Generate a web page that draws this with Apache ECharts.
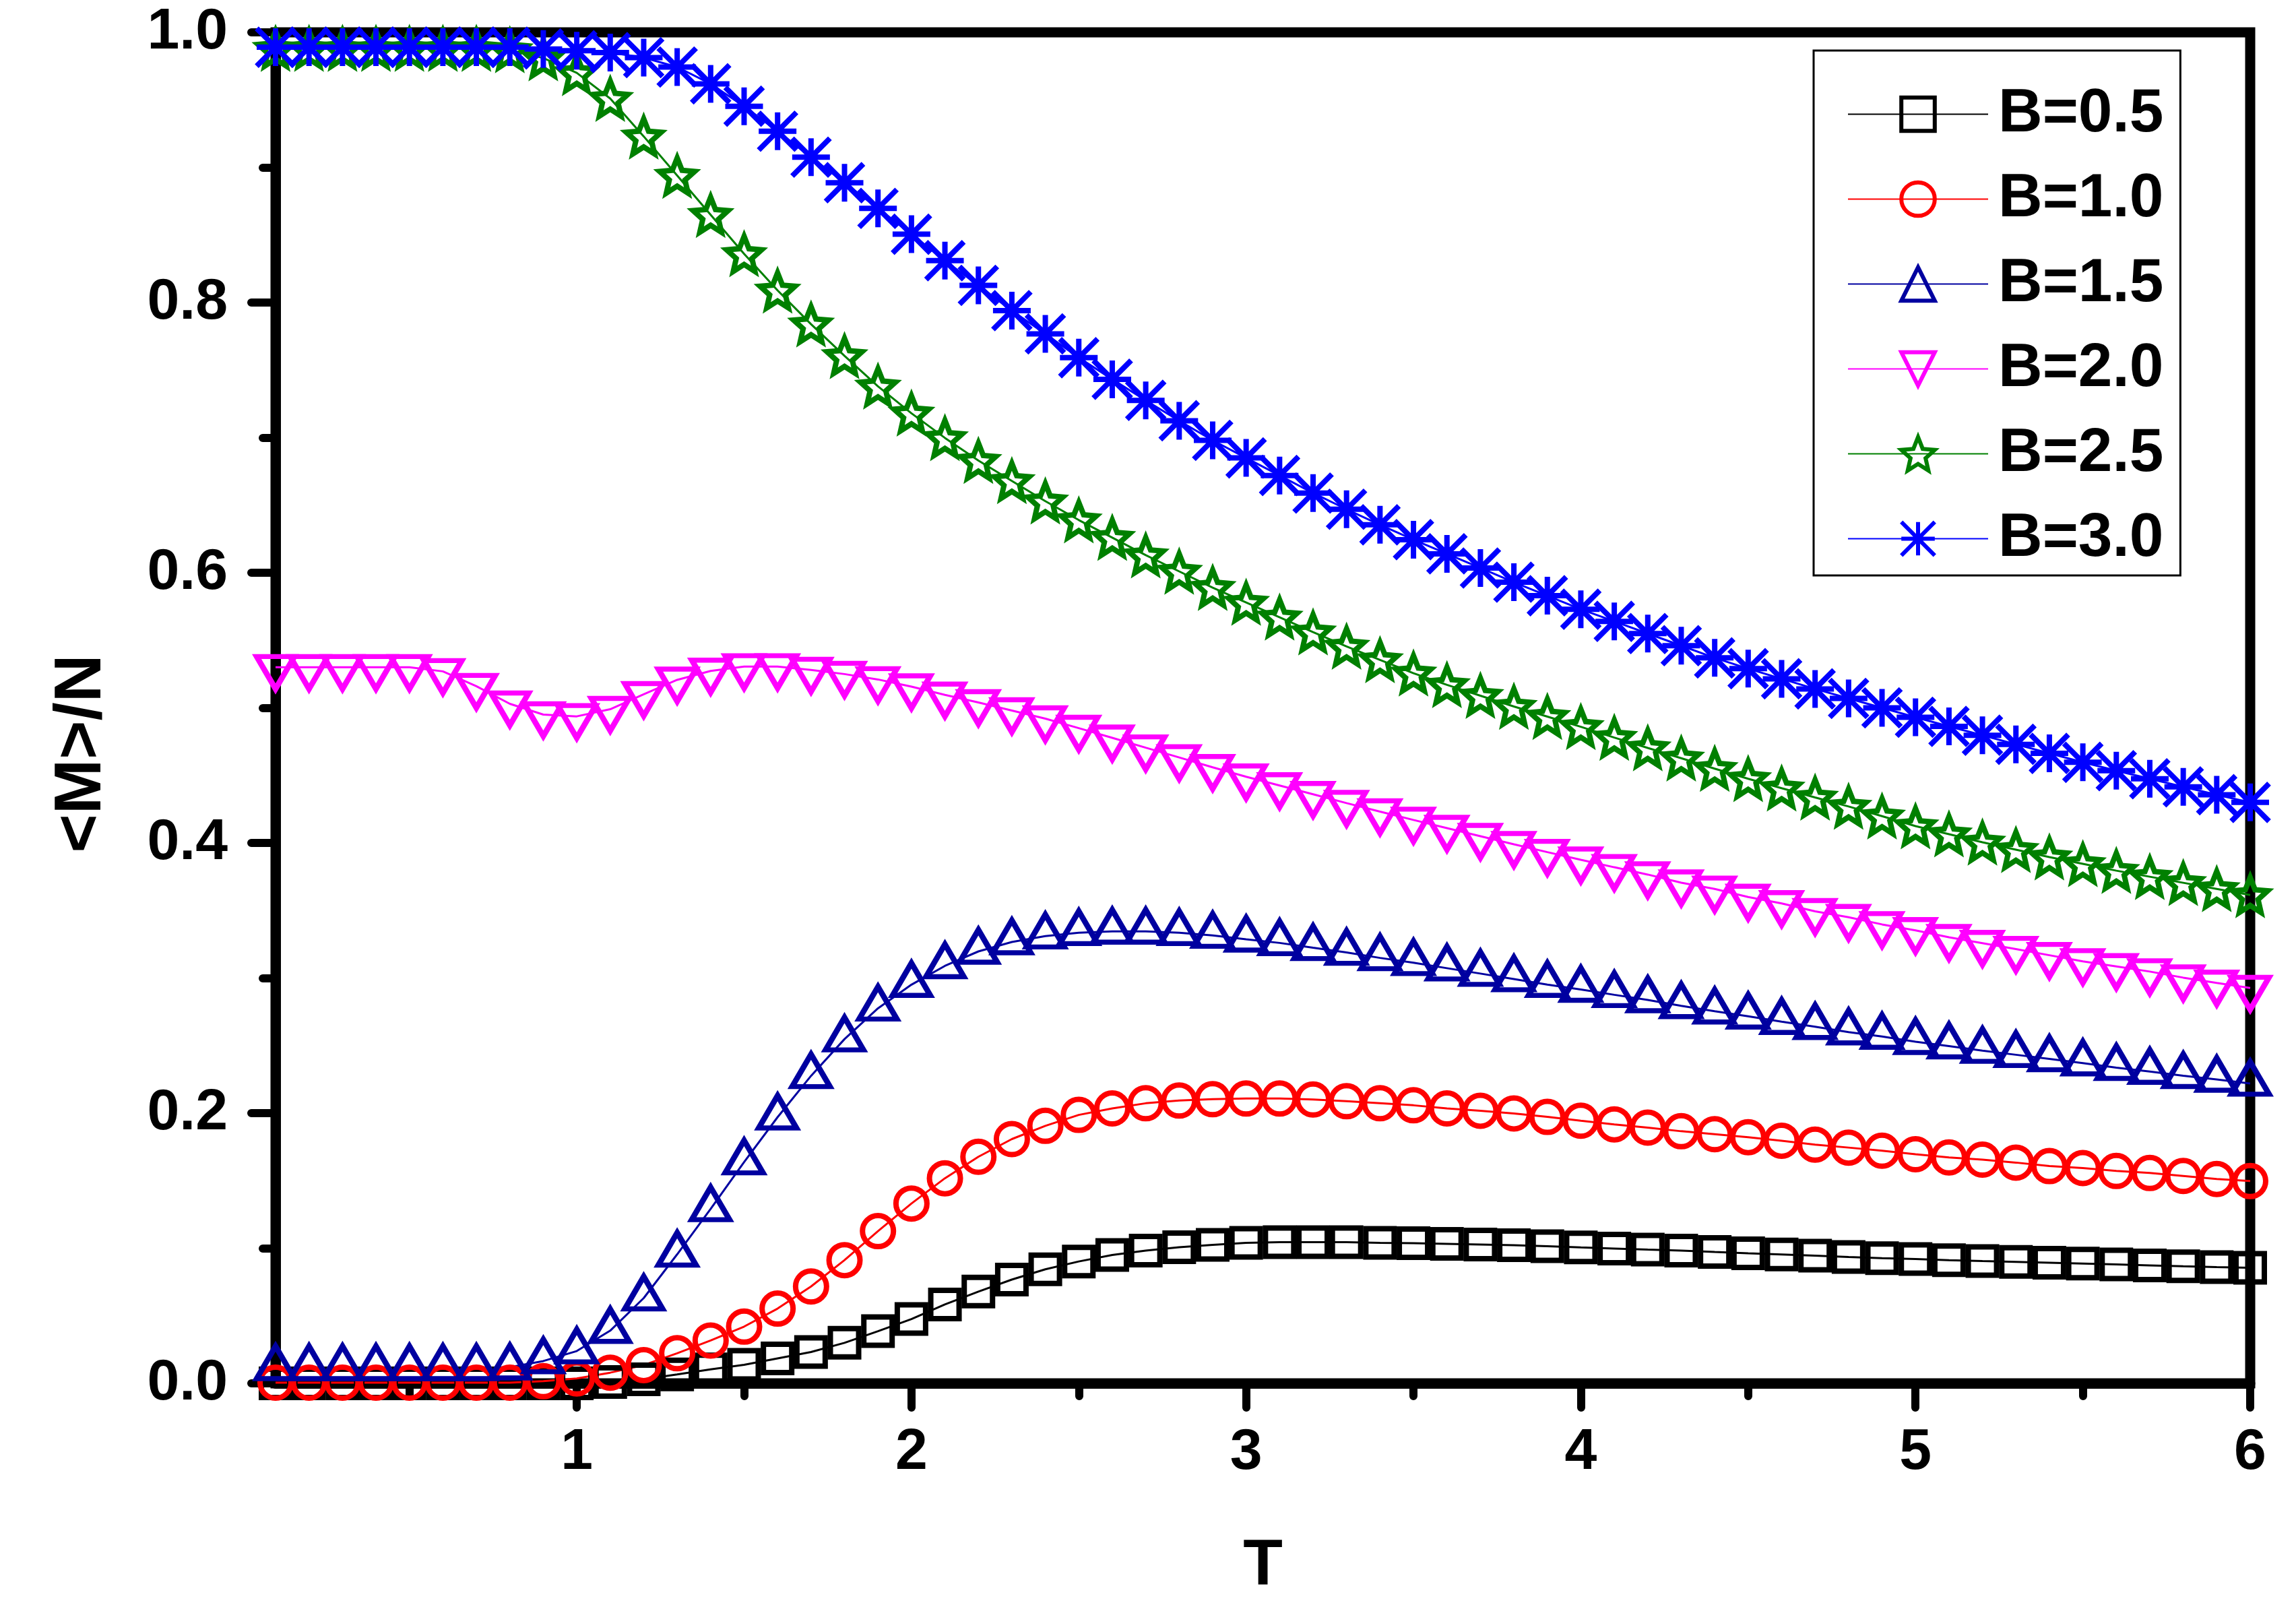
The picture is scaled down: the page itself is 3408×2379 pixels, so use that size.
<!DOCTYPE html>
<html>
<head>
<meta charset="utf-8">
<title>&lt;M&gt;/N vs T</title>
<script src="https://cdn.jsdelivr.net/npm/echarts@6/dist/echarts.min.js"></script>
<style>
  html, body { margin: 0; padding: 0; background: #fff; }
  #chart { width: 3408px; height: 2379px; }
</style>
</head>
<body>
<div id="chart"></div>
<script>
// temperature grid, one point every 0.1
const T = [
  0.1, 0.2, 0.3, 0.4, 0.5, 0.6, 0.7, 0.8, 0.9, 1.0,
  1.1, 1.2, 1.3, 1.4, 1.5, 1.6, 1.7, 1.8, 1.9, 2.0,
  2.1, 2.2, 2.3, 2.4, 2.5, 2.6, 2.7, 2.8, 2.9, 3.0,
  3.1, 3.2, 3.3, 3.4, 3.5, 3.6, 3.7, 3.8, 3.9, 4.0,
  4.1, 4.2, 4.3, 4.4, 4.5, 4.6, 4.7, 4.8, 4.9, 5.0,
  5.1, 5.2, 5.3, 5.4, 5.5, 5.6, 5.7, 5.8, 5.9, 6.0
];

const B05 = [
  0, 0, 0, 0, 0, 0, 0, 0, 0, 0,
  0.001, 0.003, 0.0066, 0.0104, 0.0137, 0.0185, 0.0232, 0.030, 0.0386, 0.0476,
  0.0584, 0.0679, 0.0768, 0.0844, 0.0902, 0.095, 0.0983, 0.1008, 0.1025, 0.104,
  0.1045, 0.1045, 0.1045, 0.104, 0.1038, 0.1033, 0.1028, 0.1022, 0.1015, 0.1006,
  0.0998, 0.099, 0.0983, 0.0972, 0.0962, 0.0954, 0.0945, 0.0935, 0.0927, 0.092,
  0.0912, 0.0905, 0.0899, 0.0893, 0.0887, 0.088, 0.0873, 0.0866, 0.086, 0.0855
];

const B10 = [
  0.0005, 0.0005, 0.0005, 0.0005, 0.0005, 0.0005, 0.0005, 0.0005, 0.0016, 0.0036,
  0.0079, 0.0135, 0.0223, 0.0317, 0.042, 0.0553, 0.0717, 0.0912, 0.1127, 0.1331,
  0.1518, 0.1677, 0.1808, 0.1906, 0.1987, 0.2035, 0.2073, 0.2093, 0.2103, 0.2108,
  0.2108, 0.2101, 0.2088, 0.2073, 0.2058, 0.2035, 0.2018, 0.1998, 0.1972, 0.1944,
  0.1917, 0.1893, 0.1866, 0.1844, 0.1822, 0.1796, 0.1767, 0.1745, 0.1722, 0.1696,
  0.1672, 0.1656, 0.1634, 0.1608, 0.1594, 0.1572, 0.1557, 0.1535, 0.1513, 0.1497
];

const B15 = [
  0.0115, 0.0115, 0.0115, 0.0115, 0.0115, 0.0115, 0.0115, 0.012, 0.0165, 0.0239,
  0.039, 0.0631, 0.0955, 0.1291, 0.1638, 0.197, 0.2276, 0.2548, 0.2776, 0.2951,
  0.309, 0.3197, 0.3267, 0.331, 0.3335, 0.3345, 0.3345, 0.3335, 0.3315, 0.3287,
  0.326, 0.3224, 0.3189, 0.3149, 0.3113, 0.3073, 0.3033, 0.2993, 0.2951, 0.2915,
  0.2876, 0.2838, 0.2794, 0.2754, 0.2717, 0.2677, 0.264, 0.26, 0.2567, 0.2529,
  0.2496, 0.2463, 0.2432, 0.2401, 0.237, 0.2337, 0.2308, 0.2277, 0.2249, 0.222
];

const B20 = [
  0.530, 0.530, 0.530, 0.530, 0.530, 0.527, 0.516, 0.503, 0.495, 0.4937,
  0.499, 0.510, 0.5207, 0.5273, 0.5306, 0.5306, 0.528, 0.525, 0.521, 0.5157,
  0.5096, 0.504, 0.498, 0.492, 0.485, 0.4778, 0.4705, 0.4633, 0.456, 0.449,
  0.4425, 0.436, 0.4295, 0.4232, 0.417, 0.411, 0.405, 0.399, 0.3932, 0.3875,
  0.382, 0.3766, 0.3706, 0.366, 0.36, 0.3552, 0.3494, 0.345, 0.3397, 0.3353,
  0.3302, 0.3258, 0.3214, 0.3169, 0.3123, 0.3086, 0.3048, 0.3003, 0.2964, 0.2926
];

const B25 = [
  0.988, 0.988, 0.988, 0.988, 0.988, 0.988, 0.988, 0.987, 0.981, 0.970,
  0.951, 0.923, 0.894, 0.865, 0.836, 0.809, 0.784, 0.7605, 0.738, 0.718,
  0.6998, 0.683, 0.668, 0.653, 0.639, 0.626, 0.613, 0.601, 0.589, 0.578,
  0.567, 0.556, 0.5455, 0.5355, 0.5256, 0.517, 0.509, 0.501, 0.4935, 0.486,
  0.478, 0.4703, 0.4627, 0.455, 0.4475, 0.4405, 0.4337, 0.427, 0.4198, 0.4125,
  0.4065, 0.4005, 0.395, 0.3895, 0.3845, 0.3795, 0.375, 0.3705, 0.366, 0.3615
];

const B30 = [
  0.989, 0.989, 0.989, 0.989, 0.989, 0.989, 0.989, 0.989, 0.9877, 0.9864,
  0.985, 0.9813, 0.9743, 0.9619, 0.9453, 0.9268, 0.9076, 0.8887, 0.8697, 0.8506,
  0.831, 0.8127, 0.794, 0.7768, 0.7592, 0.7432, 0.7276, 0.7125, 0.698, 0.685,
  0.672, 0.659, 0.647, 0.6355, 0.6245, 0.614, 0.6035, 0.593, 0.583, 0.573,
  0.564, 0.555, 0.546, 0.537, 0.529, 0.5215, 0.514, 0.507, 0.5, 0.493,
  0.4863, 0.4797, 0.473, 0.4663, 0.4597, 0.4535, 0.4475, 0.4415, 0.4357, 0.43
];

const X_MAJOR = [1, 2, 3, 4, 5, 6];
const X_MINOR = [0.5, 1.5, 2.5, 3.5, 4.5, 5.5];

const FONT = 'Arial, "Liberation Sans", sans-serif';

const markers = {
  square: 'rect',
  circle: 'circle',
  up: 'triangle',
  down: 'path://M0,0 L2,0 L1,1.7 Z',
  star: 'path://M1,0 L1.2645,0.636 L1.9511,0.691 L1.428,1.139 L1.5878,1.809 L1,1.45 L0.4122,1.809 L0.572,1.139 L0.0489,0.691 L0.7355,0.636 Z',
  asterisk: 'path://M0,0 L2,2 M2,0 L0,2 M0,1 L2,1 M1,0 L1,2'
};

const defs = [
  { name: 'B=0.5', data: B05, color: '#000000', symbol: markers.square, size: 42, offset: [0, 0] },
  { name: 'B=1.0', data: B10, color: '#FF0000', symbol: markers.circle, size: 46, offset: [0, 0] },
  { name: 'B=1.5', data: B15, color: '#0000A0', symbol: markers.up, size: [56, 48], offset: [0, -8] },
  { name: 'B=2.0', data: B20, color: '#FF00FF', symbol: markers.down, size: [56, 48], offset: [0, 8] },
  { name: 'B=2.5', data: B25, color: '#008000', symbol: markers.star, size: 52, offset: [0, 0] },
  { name: 'B=3.0', data: B30, color: '#0000FF', symbol: markers.asterisk, size: 56, offset: [0, 0] }
];

const makeSeries = (d) => ({
  name: d.name,
  type: 'line',
  data: T.map((t, i) => [t, d.data[i]]),
  symbol: d.symbol,
  symbolSize: d.size,
  symbolOffset: d.offset,
  showAllSymbol: true,
  clip: false,
  lineStyle: { color: d.color, width: 3 },
  itemStyle: { color: 'rgba(255,255,255,0)', borderColor: d.color, borderWidth: 8 },
  emphasis: { disabled: true }
});

const tickLine = { color: '#000', width: 12, cap: 'round' };
const labelFont = { fontSize: 86, fontWeight: 'bold', color: '#000', fontFamily: FONT };

const option = {
  animation: false,
  backgroundColor: '#fff',
  grid: {
    left: 409, right: 68, top: 48, bottom: 309,
    show: true, borderColor: '#000', borderWidth: 15, backgroundColor: 'transparent'
  },
  legend: {
    orient: 'vertical',
    left: 2692, top: 75,
    padding: [49, 25, 9, 50],
    itemWidth: 208,
    itemHeight: 62,
    itemGap: 35,
    backgroundColor: '#fff',
    borderColor: '#000',
    borderWidth: 3,
    itemStyle: { borderWidth: 6 },
    textStyle: { fontSize: 91, fontWeight: 'bold', color: '#000', fontFamily: FONT, padding: [0, 0, 0, 10] },
    data: defs.map(d => d.name)
  },
  xAxis: [
    {
      type: 'value', min: 0.1, max: 6, position: 'bottom',
      name: 'T', nameLocation: 'middle', nameGap: 225,
      nameTextStyle: { fontSize: 96, fontWeight: 'bold', color: '#000', fontFamily: FONT },
      axisLine: { show: true, onZero: false, lineStyle: { color: '#000', width: 15 } },
      axisTick: { show: true, customValues: X_MAJOR, length: 36, lineStyle: tickLine },
      axisLabel: Object.assign({ customValues: X_MAJOR, margin: 60 }, labelFont),
      splitLine: { show: false }
    },
    {
      type: 'value', min: 0.1, max: 6, position: 'bottom',
      axisLine: { show: false },
      axisTick: { show: true, customValues: X_MINOR, length: 19, lineStyle: tickLine },
      axisLabel: { show: false },
      splitLine: { show: false }
    }
  ],
  yAxis: {
    type: 'value', min: 0, max: 1, interval: 0.2,
    name: '<M>/N', nameLocation: 'middle', nameGap: 238, nameRotate: 90,
    nameTextStyle: { fontSize: 98, fontWeight: 'bold', color: '#000', fontFamily: FONT, padding: [0, 136, 0, 0] },
    axisLine: { show: true, onZero: false, lineStyle: { color: '#000', width: 15 } },
    axisTick: { show: true, length: 36, lineStyle: tickLine },
    minorTick: { show: true, splitNumber: 2, length: 19, lineStyle: tickLine },
    axisLabel: Object.assign({ margin: 71, formatter: v => v.toFixed(1) }, labelFont),
    splitLine: { show: false }
  },
  series: defs.map(makeSeries)
};

const chart = echarts.init(document.getElementById('chart'));
chart.setOption(option);
</script>
</body>
</html>
